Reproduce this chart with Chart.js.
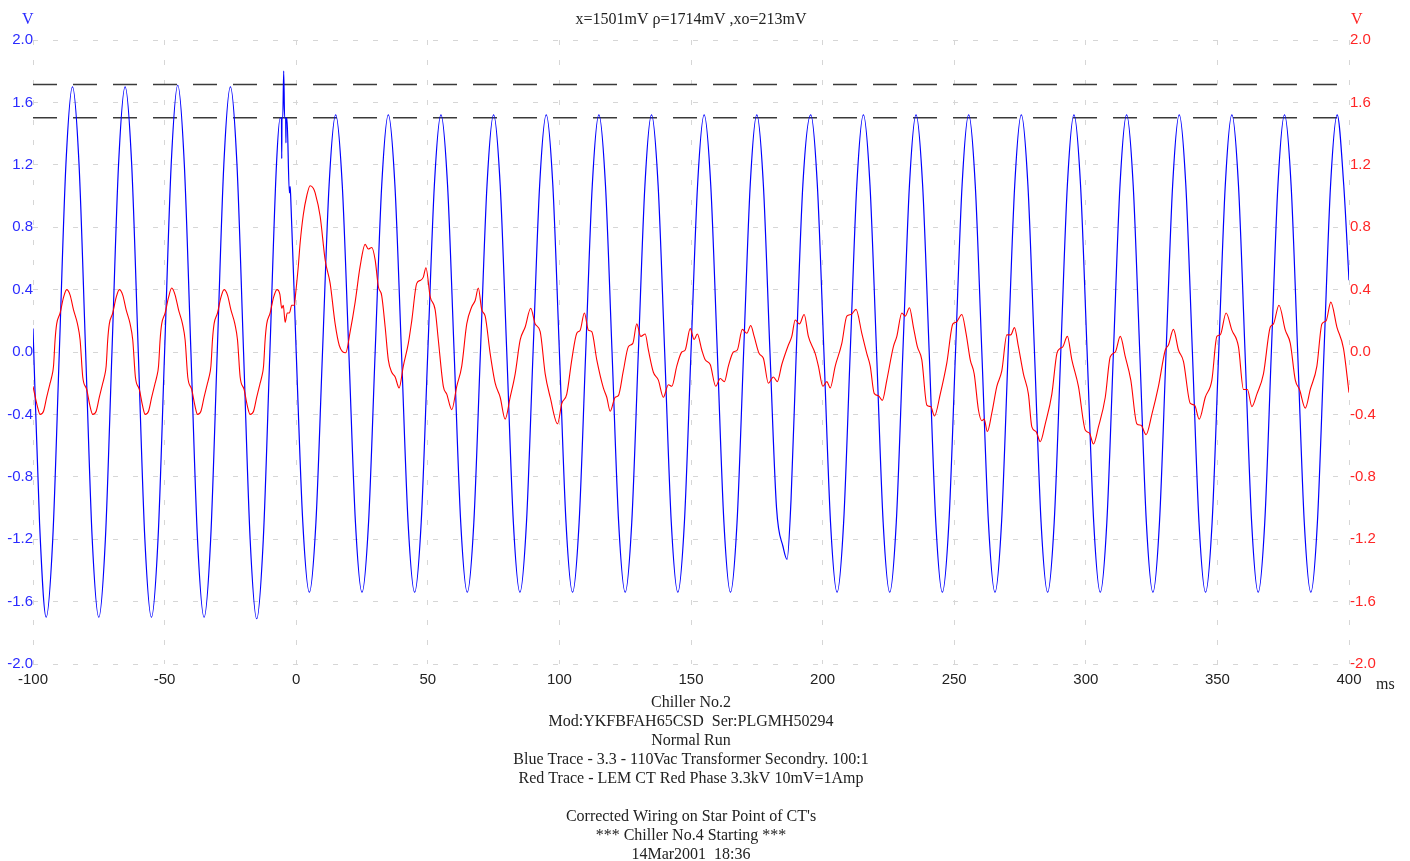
<!DOCTYPE html>
<html>
<head>
<meta charset="utf-8">
<script src="https://cdn.jsdelivr.net/npm/chart.js@4.4.1/dist/chart.umd.min.js"></script>
<style>
  html, body { margin: 0; padding: 0; background: #fff; }
  canvas { display: block; }
</style>
</head>
<body>
<canvas id="scope" width="1410" height="861"></canvas>
<script>
// readings taken off the scope print-out
const headerText = 'x=1501mV ρ=1714mV ,xo=213mV';
const footerLines = [
  'Chiller No.2',
  'Mod:YKFBFAH65CSD  Ser:PLGMH50294',
  'Normal Run',
  'Blue Trace - 3.3 - 110Vac Transformer Secondry. 100:1',
  'Red Trace - LEM CT Red Phase 3.3kV 10mV=1Amp',
  '',
  'Corrected Wiring on Star Point of CT\'s',
  '*** Chiller No.4 Starting ***',
  '14Mar2001  18:36'
];
const xTicks = [-100, -50, 0, 50, 100, 150, 200, 250, 300, 350, 400];
const yTicks = [-2.0, -1.6, -1.2, -0.8, -0.4, 0.0, 0.4, 0.8, 1.2, 1.6, 2.0];
const markerLevels = [1.714, 1.501];

// [ms, V]  blue = 3.3kV / 110V transformer secondary
const blueTrace = [
  [-100,0.15],[-97.5,-1.10],[-95,-1.70],[-92.5,-1.20],[-90,0],[-87.5,1.20],[-85,1.70],[-82.5,1.20],
  [-80,0],[-77.5,-1.20],[-75,-1.70],[-72.5,-1.20],[-70,0],[-67.5,1.20],[-65,1.70],[-62.5,1.20],
  [-60,0],[-57.5,-1.20],[-55,-1.70],[-52.5,-1.20],[-50,0],[-47.5,1.20],[-45,1.71],[-42.5,1.20],
  [-40,0],[-37.5,-1.20],[-35,-1.70],[-32.5,-1.20],[-30,0],[-27.5,1.20],[-25,1.70],[-22.5,1.20],
  [-20,0],[-17.5,-1.20],[-15,-1.71],[-12.5,-1.20],[-10,0],[-7.5,1.20],
  [-6.1,1.50],[-5.6,1.50],[-5.5,1.24],[-5.4,1.50],[-5.1,1.50],[-4.75,1.80],[-4.4,1.50],[-4.0,1.50],
  [-3.9,1.34],[-3.8,1.50],[-3.5,1.50],[-2.6,1.02],[-2.3,1.06],[-2.1,1.00],
  [0,0],[2.5,-1.09],[5,-1.54],[7.5,-1.09],[10,0],[12.5,1.07],[15,1.52],[17.5,1.07],
  [20,0],[22.5,-1.09],[25,-1.54],[27.5,-1.09],[30,0],[32.5,1.07],[35,1.52],[37.5,1.07],
  [40,0],[42.5,-1.09],[45,-1.54],[47.5,-1.09],[50,0],[52.5,1.07],[55,1.52],[57.5,1.07],
  [60,0],[62.5,-1.09],[65,-1.54],[67.5,-1.09],[70,0],[72.5,1.07],[75,1.52],[77.5,1.07],
  [80,0],[82.5,-1.09],[85,-1.54],[87.5,-1.09],[90,0],[92.5,1.07],[95,1.52],[97.5,1.07],
  [100,0],[102.5,-1.09],[105,-1.54],[107.5,-1.09],[110,0],[112.5,1.07],[115,1.52],[117.5,1.07],
  [120,0],[122.5,-1.09],[125,-1.54],[127.5,-1.09],[130,0],[132.5,1.07],[135,1.52],[137.5,1.07],
  [140,0],[142.5,-1.09],[145,-1.54],[147.5,-1.09],[150,0],[152.5,1.07],[155,1.52],[157.5,1.07],
  [160,0],[162.5,-1.09],[165,-1.54],[167.5,-1.09],[170,0],[172.5,1.07],[175,1.52],[177.5,1.07],
  [180,0],[182.5,-1.00],[185,-1.25],[186.5,-1.33],[188,-0.95],[190,0],[192.5,1.07],[195.5,1.52],[198,1.07],
  [200.5,0],[203,-1.09],[205.5,-1.54],[208,-1.09],[210.5,0],[213,1.07],[215.5,1.52],[218,1.07],
  [220.5,0],[223,-1.09],[225.5,-1.54],[228,-1.09],[230.5,0],[233,1.07],[235.5,1.52],[238,1.07],
  [240.5,0],[243,-1.09],[245.5,-1.54],[248,-1.09],[250.5,0],[253,1.07],[255.5,1.52],[258,1.07],
  [260.5,0],[263,-1.09],[265.5,-1.54],[268,-1.09],[270.5,0],[273,1.07],[275.5,1.52],[278,1.07],
  [280.5,0],[283,-1.09],[285.5,-1.54],[288,-1.09],[290.5,0],[293,1.07],[295.5,1.52],[298,1.07],
  [300.5,0],[303,-1.09],[305.5,-1.54],[308,-1.09],[310.5,0],[313,1.07],[315.5,1.52],[318,1.07],
  [320.5,0],[323,-1.09],[325.5,-1.54],[328,-1.09],[330.5,0],[333,1.07],[335.5,1.52],[338,1.07],
  [340.5,0],[343,-1.09],[345.5,-1.54],[348,-1.09],[350.5,0],[353,1.07],[355.5,1.52],[358,1.07],
  [360.5,0],[363,-1.09],[365.5,-1.54],[368,-1.09],[370.5,0],[373,1.07],[375.5,1.52],[378,1.07],
  [380.5,0],[383,-1.09],[385.5,-1.54],[388,-1.09],[390.5,0],[393,1.07],[395.5,1.52],[398,1.07],
  [400,0.46]
];

// [ms, V]  red = LEM CT, red phase
const redTrace = [
  [-100,-0.22],[-98.3,-0.35],
  [-97.3,-0.40],[-96.0,-0.38],[-94.8,-0.29],[-93.5,-0.20],[-92.9,-0.16],[-92.2,-0.09],[-91.6,0.08],[-91.0,0.18],
  [-89.7,0.25],[-88.4,0.35],[-87.2,0.40],[-85.9,0.365],[-84.6,0.27],[-83.1,0.18],[-82.1,0.077],[-81.1,-0.16],
  [-79.6,-0.24],[-78.3,-0.35],
  [-77.3,-0.40],[-76.0,-0.38],[-74.8,-0.29],[-73.5,-0.20],[-72.9,-0.16],[-72.2,-0.09],[-71.6,0.08],[-71.0,0.18],
  [-69.7,0.25],[-68.4,0.35],[-67.2,0.40],[-65.9,0.365],[-64.6,0.27],[-63.1,0.18],[-62.1,0.077],[-61.1,-0.16],
  [-59.6,-0.24],[-58.3,-0.35],
  [-57.4,-0.40],[-56.1,-0.38],[-54.9,-0.29],[-53.6,-0.20],[-53.0,-0.16],[-52.3,-0.09],[-51.7,0.08],[-51.1,0.18],
  [-49.8,0.25],[-48.5,0.35],[-47.3,0.41],[-46.0,0.365],[-44.7,0.27],[-43.2,0.18],[-42.2,0.077],[-41.2,-0.16],
  [-39.7,-0.24],[-38.4,-0.35],
  [-37.5,-0.40],[-36.2,-0.38],[-35.0,-0.29],[-33.7,-0.20],[-33.1,-0.16],[-32.4,-0.09],[-31.8,0.08],[-31.2,0.18],
  [-29.9,0.25],[-28.6,0.35],[-27.4,0.40],[-26.1,0.365],[-24.8,0.27],[-23.3,0.18],[-22.3,0.077],[-21.3,-0.16],
  [-19.8,-0.24],[-18.5,-0.35],
  [-17.5,-0.40],[-16.2,-0.38],[-15.0,-0.29],[-13.7,-0.20],[-13.1,-0.16],[-12.4,-0.09],[-11.8,0.08],[-11.2,0.18],
  [-9.9,0.25],[-8.6,0.35],[-7.3,0.40],
  [-6.2,0.37],[-5.5,0.28],[-4.9,0.30],[-4.2,0.19],[-3.4,0.25],[-2.6,0.25],[-1.7,0.30],[-0.7,0.30],[-0.3,0.36],
  [0.8,0.55],[1.5,0.70],[2.7,0.88],[4.0,1.00],[5.3,1.066],[6.5,1.05],[7.2,1.02],[9.1,0.87],[11.0,0.59],
  [12.9,0.44],[14.8,0.18],[16.4,0.04],[18.8,-0.005],[20.5,0.13],[22.4,0.32],[24.3,0.55],[26.2,0.69],
  [27.4,0.66],[28.7,0.67],[30.0,0.59],[31.2,0.42],[32.5,0.36],[33.8,0.16],[35.0,-0.05],[36.3,-0.13],
  [37.6,-0.16],[39.1,-0.23],[40.7,-0.09],[42.6,0.055],[43.9,0.20],[45.8,0.44],[47.3,0.46],[48.3,0.48],
  [49.3,0.54],[50.9,0.355],[52.8,0.27],[54.0,0.077],[55.9,-0.22],[57.2,-0.27],[59.1,-0.37],[61.0,-0.22],
  [62.9,-0.09],[64.8,0.18],[66.7,0.29],[68.0,0.33],[69.2,0.41],[70.5,0.27],[71.8,0.23],[73.7,-0.01],
  [75.6,-0.20],[77.5,-0.29],[79.4,-0.43],[81.3,-0.29],[83.2,-0.14],[85.1,0.077],[87.0,0.16],[89.1,0.28],
  [90.8,0.18],[92.7,0.13],[94.6,-0.14],[96.5,-0.29],[99.3,-0.46],[100.9,-0.33],[102.8,-0.27],[104.7,-0.05],
  [106.6,0.12],[107.9,0.14],[109.5,0.25],[111.0,0.14],[112.3,0.13],[114.2,-0.05],[116.7,-0.23],[118.0,-0.29],
  [119.3,-0.38],[121.2,-0.29],[122.4,-0.28],[124.3,-0.12],[126.2,0.034],[127.9,0.055],[129.4,0.18],[130.9,0.10],
  [132.6,0.115],[133.8,0.013],[135.7,-0.13],[137.6,-0.18],[139.5,-0.29],[141.4,-0.21],[142.7,-0.22],[144.6,-0.09],
  [146.5,0.0],[147.8,0.013],[149.7,0.15],[151.2,0.08],[152.4,0.115],[154.1,0.013],[155.4,-0.05],[157.3,-0.08],
  [159.4,-0.22],[161.1,-0.17],[162.7,-0.19],[164.2,-0.09],[166.1,0.0],[167.6,0.013],[169.5,0.145],[171.2,0.12],
  [172.7,0.17],[174.0,0.10],[175.9,-0.01],[177.5,-0.04],[179.4,-0.20],[181.3,-0.16],[182.8,-0.19],[184.5,-0.08],
  [187.0,0.045],[188.3,0.10],[189.6,0.205],[191.2,0.18],[193.0,0.24],[194.6,0.10],[197.2,-0.01],[198.4,-0.09],
  [200.1,-0.22],[201.6,-0.19],[202.9,-0.23],[204.8,-0.09],[207.3,0.055],[209.2,0.23],[210.8,0.24],[212.7,0.273],
  [214.9,0.12],[216.8,-0.01],[218.1,-0.09],[219.6,-0.265],[221.2,-0.28],[222.7,-0.31],[224.4,-0.18],[226.9,0.034],
  [228.2,0.10],[230.1,0.25],[231.4,0.23],[233.0,0.284],[234.5,0.16],[236.0,0.034],[237.7,-0.05],[239.6,-0.34],
  [241.1,-0.35],[242.5,-0.41],[244.7,-0.27],[247.2,-0.07],[249.5,0.18],[250.7,0.19],[252.9,0.24],[254.5,0.12],
  [256.1,-0.05],[257.6,-0.14],[259.2,-0.37],[260.5,-0.44],[261.4,-0.43],[262.6,-0.51],[264.3,-0.39],[266.2,-0.22],
  [268.1,-0.12],[270.0,0.11],[271.5,0.11],[272.9,0.156],[274.4,0.034],[276.3,-0.14],[278.2,-0.27],[279.5,-0.48],
  [281.1,-0.51],[282.7,-0.575],[284.6,-0.46],[287.1,-0.27],[289.0,-0.01],[290.3,0.023],[291.3,0.034],[293.0,0.10],
  [294.7,-0.05],[297.2,-0.22],[299.8,-0.50],[301.4,-0.52],[302.9,-0.59],[304.8,-0.48],[307.4,-0.29],[309.3,-0.03],
  [311.2,0.0],[313.1,0.10],[315.0,-0.03],[317.1,-0.18],[319.4,-0.46],[321.0,-0.47],[322.9,-0.53],[325.1,-0.40],
  [327.6,-0.22],[330.2,0.013],[331.4,0.045],[333.3,0.145],[335.2,0.013],[337.1,-0.06],[339.7,-0.33],[341.3,-0.34],
  [343.1,-0.43],[345.4,-0.29],[347.9,-0.18],[349.8,0.10],[351.1,0.11],[353.3,0.25],[355.5,0.14],[358.0,0.034],
  [359.9,-0.24],[361.4,-0.24],[363.1,-0.35],[365.0,-0.27],[367.5,-0.14],[370.1,0.16],[371.3,0.18],[373.4,0.30],
  [375.8,0.14],[377.7,0.055],[379.6,-0.18],[381.2,-0.24],[383.4,-0.36],[385.3,-0.24],[387.8,-0.09],[389.7,0.18],
  [391.3,0.20],[393.1,0.32],[395.4,0.16],[397.9,0.023],[400,-0.26]
];

const BLUE = '#0000ff';
const RED = '#ff0000';
const GRID = '#d6d6d6';

function toPoints(pairs) {
  return pairs.map(p => ({ x: p[0], y: p[1] }));
}

function levelLine(v) {
  return {
    data: [{ x: xTicks[0], y: v }, { x: xTicks[xTicks.length - 1], y: v }],
    borderColor: '#3a3a3a',
    borderWidth: 1.5,
    borderDash: [24, 16],
    pointRadius: 0,
    order: 3
  };
}

// header, footer and unit captions
const captions = {
  id: 'captions',
  afterDraw(chart) {
    const { ctx, chartArea } = chart;
    const cx = (chartArea.left + chartArea.right) / 2;
    ctx.save();
    ctx.textBaseline = 'middle';
    ctx.textAlign = 'center';
    ctx.fillStyle = '#222';
    ctx.font = '16px "Liberation Serif"';
    ctx.fillText(headerText, cx, chartArea.top - 20);
    footerLines.forEach((line, i) => {
      ctx.fillText(line, cx, chartArea.bottom + 39 + i * 19);
    });
    ctx.textAlign = 'left';
    ctx.fillText('ms', chartArea.right + 27, chartArea.bottom + 21);
    ctx.fillStyle = '#2b2bff';
    ctx.fillText('V', chartArea.left - 11, chartArea.top - 20);
    ctx.fillStyle = '#ff2626';
    ctx.fillText('V', chartArea.right + 2, chartArea.top - 20);
    ctx.restore();
  }
};

Chart.defaults.font.family = '"Liberation Sans", Arial, sans-serif';
Chart.defaults.font.size = 15;

const ctx = document.getElementById('scope').getContext('2d');
const scope = new Chart(ctx, {
  type: 'line',
  data: {
    datasets: [
      {
        label: 'Red Trace',
        data: toPoints(redTrace),
        yAxisID: 'y2',
        borderColor: RED,
        borderWidth: 1.1,
        pointRadius: 0,
        cubicInterpolationMode: 'monotone',
        order: 1
      },
      {
        label: 'Blue Trace',
        data: toPoints(blueTrace),
        yAxisID: 'y',
        borderColor: BLUE,
        borderWidth: 1.2,
        pointRadius: 0,
        cubicInterpolationMode: 'monotone',
        order: 2
      },
      levelLine(markerLevels[0]),
      levelLine(markerLevels[1])
    ]
  },
  options: {
    responsive: false,
    animation: false,
    devicePixelRatio: 1,
    layout: { padding: { left: 0, right: 0, top: 40, bottom: 167 } },
    plugins: {
      legend: { display: false },
      tooltip: { enabled: false }
    },
    scales: {
      x: {
        type: 'linear',
        min: -100,
        max: 400,
        afterBuildTicks: s => { s.ticks = xTicks.map(v => ({ value: v })); },
        afterFit: s => { s.height = 30; },
        grid: { color: GRID, drawTicks: false },
        border: { display: false, dash: [5, 15] },
        ticks: {
          color: '#222',
          padding: 7,
          maxRotation: 0,
          autoSkip: false,
          callback: v => String(v)
        }
      },
      y: {
        position: 'left',
        min: -2,
        max: 2,
        afterBuildTicks: s => { s.ticks = yTicks.map(v => ({ value: v })); },
        afterFit: s => { s.width = 33; },
        grid: { color: GRID, drawTicks: false },
        border: { display: false, dash: [5, 15] },
        ticks: {
          color: '#2b2bff',
          padding: 0,
          callback: v => v.toFixed(1)
        }
      },
      y2: {
        position: 'right',
        min: -2,
        max: 2,
        afterBuildTicks: s => { s.ticks = yTicks.map(v => ({ value: v })); },
        afterFit: s => { s.width = 61; },
        grid: { drawOnChartArea: false, drawTicks: false },
        border: { display: false },
        ticks: {
          color: '#ff2626',
          padding: 1,
          callback: v => v.toFixed(1)
        }
      }
    }
  },
  plugins: [captions]
});
</script>
</body>
</html>
